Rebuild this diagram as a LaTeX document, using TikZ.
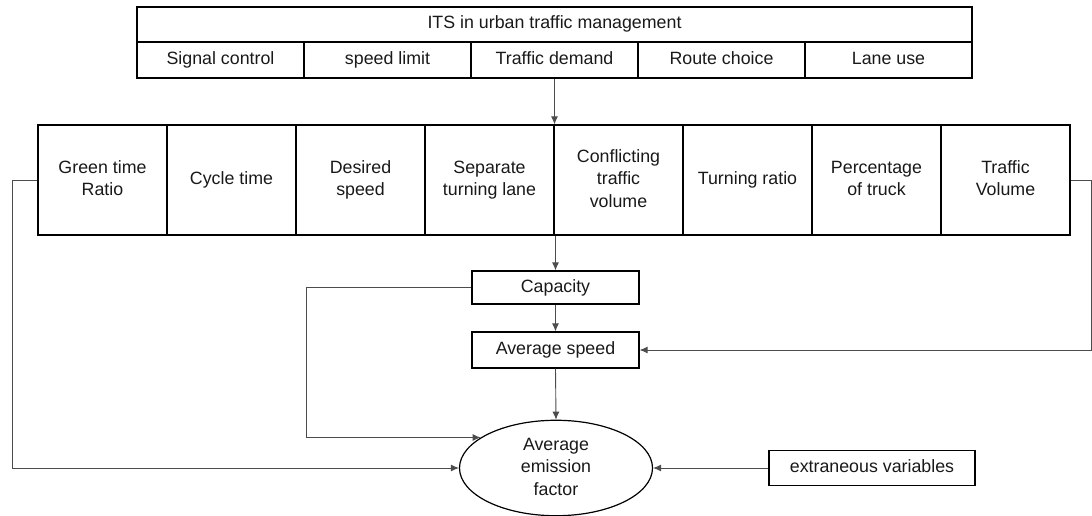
\documentclass[tikz,border=0pt]{standalone}
\usepackage{fontspec}
\setmainfont{Liberation Sans}
\usetikzlibrary{arrows.meta,shapes.geometric}
\newcommand{\sr}{\strut}
\begin{document}
\begin{tikzpicture}[x=1pt,y=-1pt,
  every node/.style={font=\fontsize{17.8}{22.5}\selectfont, text=black!90},
  cell/.style={draw=black, line width=1.2pt, rectangle, inner sep=0pt, align=center},
  topcell/.style={cell, minimum width=167pt, minimum height=36pt},
  midcell/.style={cell, minimum width=129pt, minimum height=110pt},
  emis/.style={draw=black, line width=1.2pt, ellipse, inner sep=0pt, minimum width=193pt, minimum height=94pt, align=center},
  conn/.style={draw=black!70, line width=0.9pt},
  arr/.style={conn, -{Latex[length=8pt,width=7pt]}}
]
\useasboundingbox (0,0) rectangle (1092,516);
% top table
\node[cell, minimum width=835pt, minimum height=35pt] (its) at (554.5,24.5) {\sr ITS in urban traffic management};
\node[topcell] (sc) at (220.5,60) {\sr Signal control};
\node[topcell] (sl) at (387.5,60) {\sr speed limit};
\node[topcell] (td) at (554.5,60) {\sr Traffic demand};
\node[topcell] (rc) at (721.5,60) {\sr Route choice};
\node[topcell] (lu) at (888.5,60) {\sr Lane use};
% middle row
\node[midcell] (m1) at (102.5,180) {\sr Green time\\\sr Ratio};
\node[midcell] (m2) at (231.5,180) {\sr Cycle time};
\node[midcell] (m3) at (360.5,180) {\sr Desired\\\sr speed};
\node[midcell] (m4) at (489.5,180) {\sr Separate\\\sr turning lane};
\node[midcell] (m5) at (618.5,180) {\sr Conflicting\\\sr traffic\\\sr volume};
\node[midcell] (m6) at (747.5,180) {\sr Turning ratio};
\node[midcell] (m7) at (876.5,180) {\sr Percentage\\\sr of truck};
\node[midcell] (m8) at (1005.5,180) {\sr Traffic\\\sr Volume};
% lower part
\node[cell, minimum width=167pt, minimum height=33pt] (cap) at (555.5,287.5) {\sr Capacity};
\node[cell, minimum width=167pt, minimum height=36pt] (avg) at (555.5,350) {\sr Average speed};
\node[emis] (em) at (556,468) {\sr Average\\\sr emission\\\sr factor};
\node[cell, minimum width=206pt, minimum height=35pt] (ev) at (872,468) {\sr extraneous variables};
% helper coordinates
\coordinate (lc) at (306,0);
\coordinate (ll) at (12.5,0);
\coordinate (rr) at (1091,0);
% connectors
\draw[arr] (td.south) -- (td.south |- m4.north);
\draw[arr] (cap.north |- m4.south) -- (cap.north);
\draw[arr] (cap.south) -- (avg.north);
\draw[arr] (avg.south) -- (em.north);
\draw[arr] (cap.west) -| (lc |- em.158) -- (em.158);
\draw[arr] (m1.west) -| (ll |- em.west) -- (em.west);
\draw[arr] (m8.east) -| (rr |- avg.east) -- (avg.east);
\draw[arr] (ev.west) -- (em.east);
\end{tikzpicture}
\end{document}
